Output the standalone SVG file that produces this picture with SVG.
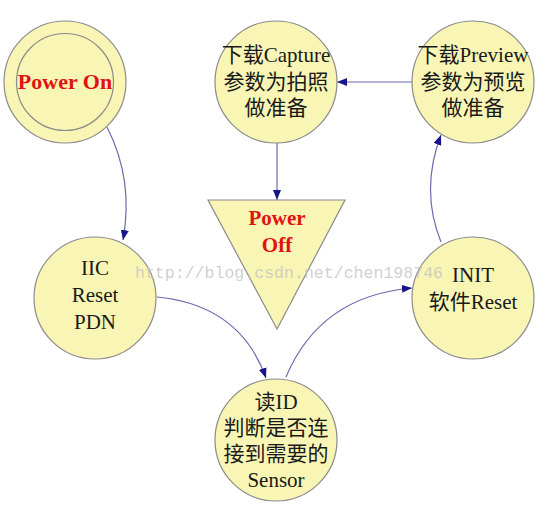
<svg xmlns="http://www.w3.org/2000/svg" width="557" height="514" viewBox="0 0 557 514">
<defs>
<style>
.node{fill:#f9f5b4;stroke:#8a8a8a;stroke-width:1.2}
.t{font-family:"Liberation Serif","Noto Sans CJK SC",serif;font-size:21px;fill:#1a1a1a;text-anchor:middle}
.r{font-family:"Liberation Serif","Noto Sans CJK SC",serif;font-weight:bold;fill:#e01212;text-anchor:middle}
.c{fill:none;stroke:#6a6aae;stroke-width:1.2}
.wm{font-family:"Liberation Mono",monospace;font-size:16.5px;fill:#c4c4c4;fill-opacity:0.8}
</style>
<marker id="ah" viewBox="0 0 10 8" refX="10" refY="4" markerWidth="10" markerHeight="8" markerUnits="userSpaceOnUse" orient="auto">
<path d="M0,0 L10,4 L0,8 z" fill="#15158c"/>
</marker>
</defs>
<rect width="557" height="514" fill="#ffffff"/>
<g id="connectors">
<path class="c" d="M107,127 Q134,180 123,240" marker-end="url(#ah)"/>
<path class="c" d="M412,82 L337,82" marker-end="url(#ah)"/>
<path class="c" d="M277,143 L277,200" marker-end="url(#ah)"/>
<path class="c" d="M157,297 Q240,305 266,378" marker-end="url(#ah)"/>
<path class="c" d="M286,377 Q320,296 412,288" marker-end="url(#ah)"/>
<path class="c" d="M441,242 Q420,190 441,135" marker-end="url(#ah)"/>
</g>
<g id="power-on">
<circle class="node" cx="65" cy="82" r="61"/>
<circle class="node" cx="65" cy="82" r="48.5"/>
<text class="r" x="65" y="89" font-size="22">Power On</text>
</g>
<g id="capture">
<circle class="node" cx="276" cy="82" r="61"/>
<text class="t" x="276" y="62">下载Capture</text>
<text class="t" x="276" y="89">参数为拍照</text>
<text class="t" x="276" y="115">做准备</text>
</g>
<g id="preview">
<circle class="node" cx="473" cy="82" r="61"/>
<text class="t" x="473" y="62">下载Preview</text>
<text class="t" x="473" y="89">参数为预览</text>
<text class="t" x="473" y="115">做准备</text>
</g>
<g id="power-off">
<polygon class="node" points="208,200 345,200 277,329"/>
<text class="r" x="277" y="225" font-size="21">Power</text>
<text class="r" x="277" y="252" font-size="21">Off</text>
</g>
<g id="iic">
<circle class="node" cx="95" cy="298" r="61"/>
<text class="t" x="95" y="275">IIC</text>
<text class="t" x="95" y="302">Reset</text>
<text class="t" x="95" y="329">PDN</text>
</g>
<g id="init">
<circle class="node" cx="473" cy="298" r="61"/>
<text class="t" x="473" y="282">INIT</text>
<text class="t" x="473" y="309">软件Reset</text>
</g>
<g id="read-id">
<circle class="node" cx="276" cy="440" r="61"/>
<text class="t" x="276" y="409">读ID</text>
<text class="t" x="276" y="435">判断是否连</text>
<text class="t" x="276" y="461">接到需要的</text>
<text class="t" x="276" y="487">Sensor</text>
</g>
<text class="wm" x="135" y="278" textLength="308">http://blog.csdn.net/chen198746</text>
</svg>
